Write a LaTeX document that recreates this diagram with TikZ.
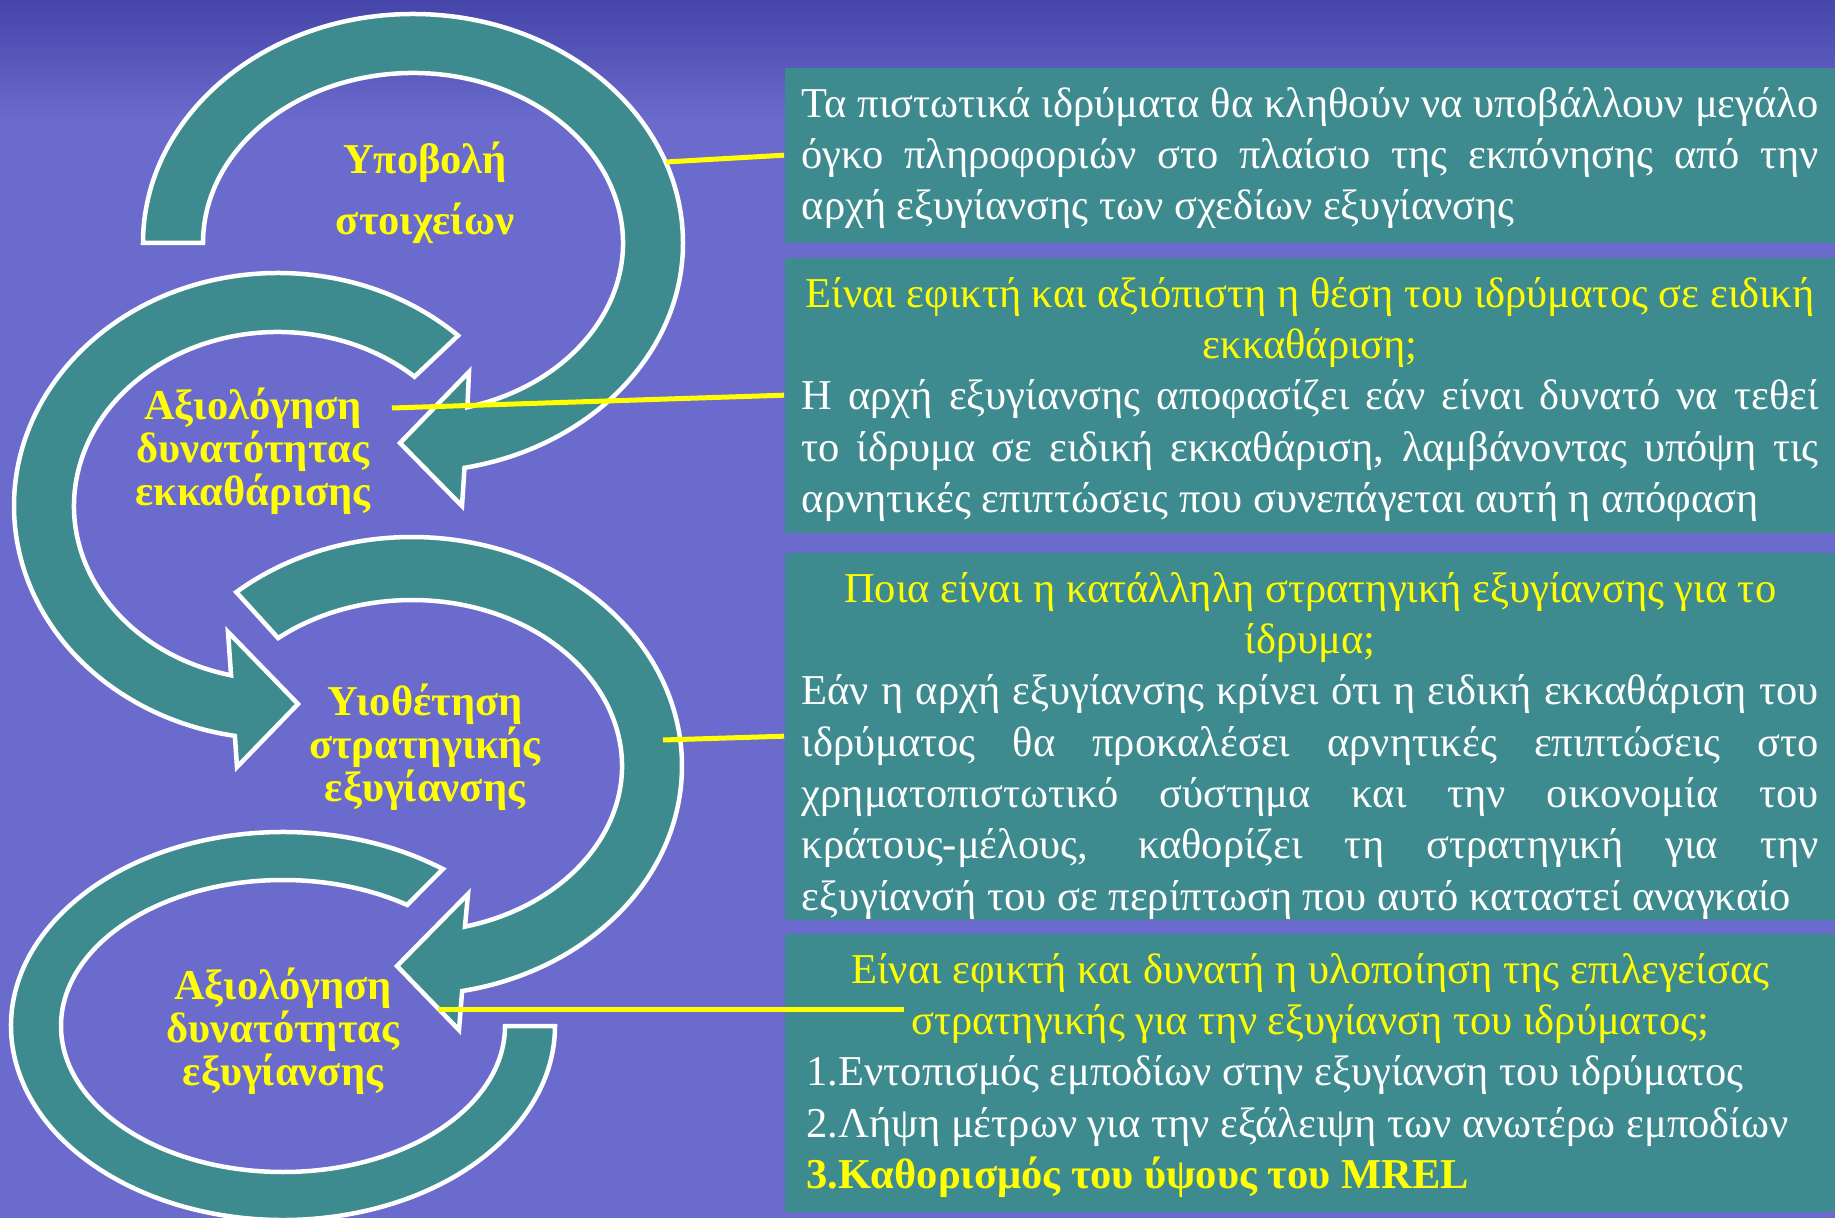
\documentclass[tikz,border=0pt]{standalone}
\usepackage{fontspec}
\setmainfont{Liberation Serif}
\usetikzlibrary{calc}

\definecolor{slidebg}{HTML}{6B6BCD}
\definecolor{slidetop}{HTML}{4545AA}
\definecolor{boxteal}{HTML}{3D8B8F}
\definecolor{hiyellow}{HTML}{FFFF00}

% plain word spaces inside the boxes (align=left makes them rigid)
\newcommand{\plainspaces}{\spaceskip=0pt\xspaceskip=0pt\relax}
\newcommand{\fillline}[1]{\makebox[\hsize][s]{#1}}
\newcommand{\midline}[1]{\makebox[\hsize][c]{\color{hiyellow}#1}}

\tikzset{
  ring/.style={fill=boxteal, draw=white, line width=0.45mm, line join=miter},
  steplabel/.style={text=hiyellow, font=\fontsize{12.1}{12.2}\selectfont\bfseries, align=center, inner sep=0pt},
  infobox/.style={fill=boxteal, anchor=north west, minimum width=105.1mm, text width=101.7mm,
    inner xsep=1.7mm, inner ysep=0pt, text height=4.95mm, text=white,
    font=\fontsize{12.1}{14.6}\selectfont, align=left},
  link/.style={draw=hiyellow, line width=0.5mm}
}

\begin{document}
\begin{tikzpicture}[x=0.1mm, y=0.1mm]
\useasboundingbox (0,0) rectangle (1835,-1218);
\clip (0,0) rectangle (1835,-1218);
\fill[slidebg] (0,0) rectangle (1835,-1218);
\shade[top color=slidetop, bottom color=slidebg] (0,0) rectangle (1835,-120);

% the four curved arrows
\coordinate (c1) at (413,-243);
\coordinate (c2) at (278,-506);
\coordinate (c3) at (412,-766);
\coordinate (c4) at (283,-1026);

\filldraw[ring] ($(c4)+(54:272 and 194)$) arc[start angle=54, end angle=360, x radius=272, y radius=194]
  -- ($(c4)+(222,0)$) arc[start angle=360, end angle=56, x radius=222, y radius=146] -- cycle;
\filldraw[ring] ($(c3)+(130.6:270 and 229)$) arc[start angle=130.6, end angle=-79.3, x radius=270, y radius=229]
  -- (459,-1030) -- (397,-966) -- (468,-894)
  -- ($(c3)+(-75.4:210 and 166)$) arc[start angle=-75.4, end angle=129.6, x radius=210, y radius=166] -- cycle;
\filldraw[ring] ($(c2)+(47:264 and 233)$) arc[start angle=47, end angle=260.6, x radius=264, y radius=233]
  -- (237,-767) -- (298,-704) -- (228,-632)
  -- ($(c2)+(256.7:204 and 174)$) arc[start angle=256.7, end angle=48, x radius=204, y radius=174] -- cycle;
\filldraw[ring] (143,-243) arc[start angle=180, end angle=-79, x radius=270, y radius=229]
  -- (462,-506) -- (400,-443) -- (469,-372)
  -- ($(c1)+(-75:210 and 170)$) arc[start angle=-75, end angle=180, x radius=210, y radius=170] -- cycle;

% step labels
\node[steplabel, font=\fontsize{12.1}{17.4}\selectfont\bfseries] (submit) at (425,-193) {Υποβολή\\στοιχείων};
\node[steplabel] (liquid) at (253,-451) {Αξιολόγηση\\δυνατότητας\\εκκαθάρισης};
\node[steplabel] (strategy) at (425,-747) {Υιοθέτηση\\στρατηγικής\\εξυγίανσης};
\node[steplabel] (feasible) at (283,-1031) {Αξιολόγηση\\δυνατότητας\\εξυγίανσης};

% text boxes
\node[infobox, text depth=12.55mm] (box1) at (784,-67) {\plainspaces
\fillline{Τα πιστωτικά ιδρύματα θα κληθούν να υποβάλλουν μεγάλο}\\
\fillline{όγκο πληροφοριών στο πλαίσιο της εκπόνησης από την}\\
αρχή εξυγίανσης των σχεδίων εξυγίανσης};
\node[infobox, text depth=22.55mm] (box2) at (784,-257) {\plainspaces
\midline{Είναι εφικτή και αξιόπιστη η θέση του ιδρύματος σε ειδική}\\
\midline{εκκαθάριση;}\\
\fillline{Η αρχή εξυγίανσης αποφασίζει εάν είναι δυνατό να τεθεί}\\
\fillline{το ίδρυμα σε ειδική εκκαθάριση, λαμβάνοντας υπόψη τις}\\
αρνητικές επιπτώσεις που συνεπάγεται αυτή η απόφαση};
\node[infobox, text depth=31.75mm] (box3) at (784,-552) {\plainspaces
\midline{Ποια είναι η κατάλληλη στρατηγική εξυγίανσης για το}\\
\midline{ίδρυμα;}\\
\fillline{Εάν η αρχή εξυγίανσης κρίνει ότι η ειδική εκκαθάριση του}\\
\fillline{ιδρύματος θα προκαλέσει αρνητικές επιπτώσεις στο}\\
\fillline{χρηματοπιστωτικό σύστημα και την οικονομία του}\\
\fillline{κράτους-μέλους, καθορίζει τη στρατηγική για την}\\
εξυγίανσή του σε περίπτωση που αυτό καταστεί αναγκαίο};
\node[infobox, text depth=22.85mm] (box4) at (784,-933) {\plainspaces
\midline{Είναι εφικτή και δυνατή η υλοποίηση της επιλεγείσας}\\
\midline{στρατηγικής για την εξυγίανση του ιδρύματος;}\\
\hspace*{0.5mm}1.Εντοπισμός εμποδίων στην εξυγίανση του ιδρύματος\\
\hspace*{0.5mm}2.Λήψη μέτρων για την εξάλειψη των ανωτέρω εμποδίων\\
\hspace*{0.5mm}{\bfseries\color{hiyellow}3.Καθορισμός του ύψους του MREL}};

% connectors
\coordinate (l1) at (666,-162);
\coordinate (l2) at (392,-408);
\coordinate (l3) at (663,-740);
\coordinate (l4a) at (438,-1009);
\coordinate (l4b) at (904,-1009);
\draw[link] (l1) -- (box1.west);
\draw[link] (l2) -- (box2.west);
\draw[link] (l3) -- (box3.west);
\draw[link] (l4a) -- (l4b);
\end{tikzpicture}
\end{document}
